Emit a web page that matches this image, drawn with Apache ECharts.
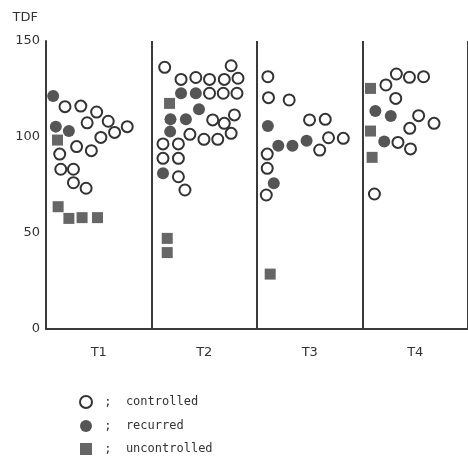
<!DOCTYPE html>
<html>
<head>
<meta charset="utf-8">
<script src="https://cdn.jsdelivr.net/npm/echarts@6/dist/echarts.min.js"></script>
<style>html,body{margin:0;padding:0;background:#fff}#c{width:468px;height:456px}</style>
</head>
<body>
<div id="c"></div>
<script>
var categories = ['T1', 'T2', 'T3', 'T4'];
var yTicks = [0, 50, 100, 150];

// [x within the 4 panels (0..4), TDF]
var controlled = [
  [0.18,115.8],[0.33,116.1],[0.48,113],[0.39,107.4],[0.59,108.2],[0.77,105.4],[0.65,102.4],[0.52,99.8],
  [0.29,95],[0.43,92.9],[0.13,91.1],[0.14,83.2],[0.26,83.2],[0.26,76.2],[0.38,73.3],
  [1.125,136.3],[1.755,137.1],[1.28,130],[1.42,131],[1.55,130],[1.69,130],[1.82,130.6],
  [1.55,122.8],[1.68,122.8],[1.81,122.8],[1.58,108.9],[1.786,111.5],[1.69,107.1],
  [1.364,101.4],[1.497,98.8],[1.628,98.8],[1.755,101.9],[1.109,96.4],[1.255,96.4],
  [1.109,88.9],[1.255,88.9],[1.255,79.3],[1.317,72.4],
  [2.103,131.4],[2.109,120.5],[2.305,119.3],[2.498,108.9],[2.647,109.2],[2.678,99.6],
  [2.818,99.3],[2.594,93.2],[2.097,91.1],[2.097,83.7],[2.088,69.8],
  [3.321,132.8],[3.445,131.1],[3.579,131.4],[3.222,127.1],[3.315,120.1],[3.532,111.1],
  [3.678,107.1],[3.448,104.5],[3.336,97.2],[3.455,93.8],[3.113,70.3]
];
var recurred = [
  [0.068,121.4],[0.093,105.4],[0.217,103.1],
  [1.28,122.8],[1.42,122.8],[1.45,114.4],[1.18,109.2],[1.326,109.2],[1.177,102.8],[1.109,81.1],
  [2.103,105.7],[2.202,95.5],[2.336,95.5],[2.47,98.1],[2.159,75.9],
  [3.122,113.5],[3.268,110.9],[3.206,97.6]
];
var uncontrolled = [
  [0.109,98.4],[0.115,63.7],[0.217,57.6],[0.342,58],[0.488,58],
  [1.171,117.5],[1.149,47.2],[1.149,39.8],
  [2.125,28.6],
  [3.076,125.3],[3.076,103.1],[3.091,89.4]
];

var ink = '#3a3a3a';
var chart = echarts.init(document.getElementById('c'));
chart.setOption({
  animation: false,
  backgroundColor: '#fff',
  grid: { left: 46, top: 41, bottom: 127, right: -7 },
  legend: {
    orient: 'vertical', left: 79, top: 395, itemGap: 11, padding: 0,
    itemWidth: 12, itemHeight: 12,
    formatter: function (n) { return ' ;  ' + n; },
    textStyle: { fontFamily: 'DejaVu Sans Mono', fontSize: 12, color: '#333' },
    data: ['controlled', 'recurred', 'uncontrolled']
  },
  xAxis: [
    {
      type: 'value', min: 0, max: 4, interval: 1,
      axisLine: { show: true, lineStyle: { color: ink, width: 2 } },
      axisTick: { show: false }, axisLabel: { show: false },
      splitLine: { show: true, lineStyle: { color: ink, width: 2 } }
    },
    {
      type: 'category', data: categories, position: 'bottom', boundaryGap: true,
      axisLine: { show: false }, axisTick: { show: false }, splitLine: { show: false },
      axisLabel: { margin: 17, fontFamily: 'DejaVu Sans', fontSize: 13, color: '#333' }
    }
  ],
  yAxis: {
    type: 'value', min: 0, max: 150, interval: 50,
    name: 'TDF', nameLocation: 'end', nameGap: 17,
    nameTextStyle: { align: 'right', padding: [0, 8, 0, 0], fontFamily: 'DejaVu Sans', fontSize: 13, color: '#333' },
    axisLine: { show: true, lineStyle: { color: ink, width: 2 } },
    axisTick: { show: false },
    splitLine: { show: false },
    axisLabel: {
      margin: 6, fontFamily: 'DejaVu Sans', fontSize: 13, color: '#333',
      customValues: yTicks
    }
  },
  series: [
    {
      name: 'controlled', type: 'scatter', xAxisIndex: 0, data: controlled,
      symbol: 'circle', symbolSize: 11,
      itemStyle: { color: '#fff', borderColor: '#333', borderWidth: 2, opacity: 1 }
    },
    {
      name: 'recurred', type: 'scatter', xAxisIndex: 0, data: recurred,
      symbol: 'circle', symbolSize: 12,
      itemStyle: { color: '#555', opacity: 1 }
    },
    {
      name: 'uncontrolled', type: 'scatter', xAxisIndex: 0, data: uncontrolled,
      symbol: 'rect', symbolSize: 11,
      itemStyle: { color: '#666', opacity: 1 }
    }
  ]
});
</script>
</body>
</html>
